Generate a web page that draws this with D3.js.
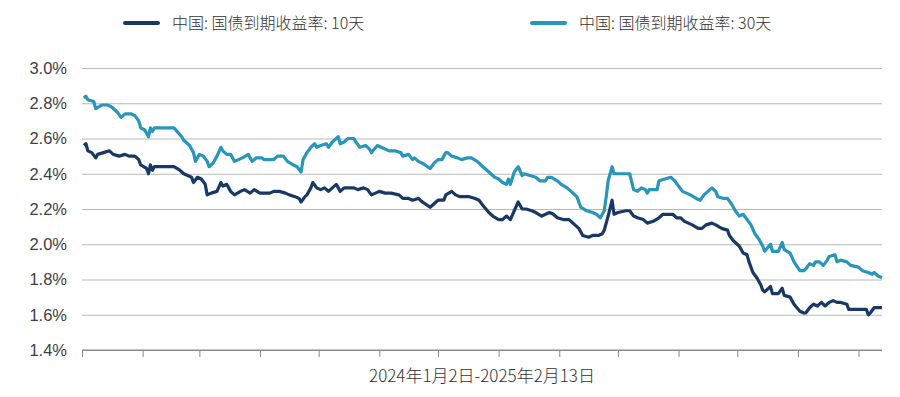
<!DOCTYPE html>
<html>
<head>
<meta charset="utf-8">
<script src="https://cdn.jsdelivr.net/npm/d3@7"></script>
<style>
  html, body { margin: 0; padding: 0; background: #fff; }
  svg { display: block; }
</style>
</head>
<body>
<div id="chart"></div>
<script>
// ---- DATA ----
const seriesNames = ["中国: 国债到期收益率: 10天", "中国: 国债到期收益率: 30天"];
const xLabel = "2024年1月2日-2025年2月13日";
const yTicks = [1.4, 1.6, 1.8, 2.0, 2.2, 2.4, 2.6, 2.8, 3.0];
const monthTicks = ["2024-01-01","2024-02-01","2024-03-01","2024-04-01","2024-05-01","2024-06-01","2024-07-01","2024-08-01","2024-09-01","2024-10-01","2024-11-01","2024-12-01","2025-01-01","2025-02-01"];

const dates10 = ["2024-01-02","2024-01-03","2024-01-04","2024-01-06","2024-01-08","2024-01-09","2024-01-12","2024-01-15","2024-01-17","2024-01-20","2024-01-23","2024-01-25","2024-01-28","2024-01-30","2024-01-31","2024-02-03","2024-02-04","2024-02-05","2024-02-06","2024-02-07","2024-02-17","2024-02-20","2024-02-22","2024-02-26","2024-02-27","2024-02-29","2024-03-02","2024-03-04","2024-03-05","2024-03-07","2024-03-10","2024-03-12","2024-03-13","2024-03-15","2024-03-17","2024-03-19","2024-03-22","2024-03-24","2024-03-27","2024-03-29","2024-04-01","2024-04-03","2024-04-06","2024-04-08","2024-04-11","2024-04-14","2024-04-16","2024-04-19","2024-04-21","2024-04-22","2024-04-24","2024-04-25","2024-04-27","2024-04-28","2024-04-30","2024-05-02","2024-05-04","2024-05-06","2024-05-08","2024-05-10","2024-05-12","2024-05-14","2024-05-17","2024-05-19","2024-05-21","2024-05-24","2024-05-26","2024-05-28","2024-05-30","2024-06-01","2024-06-04","2024-06-07","2024-06-11","2024-06-13","2024-06-16","2024-06-18","2024-06-21","2024-06-23","2024-06-27","2024-06-29","2024-07-01","2024-07-04","2024-07-05","2024-07-08","2024-07-10","2024-07-12","2024-07-15","2024-07-17","2024-07-20","2024-07-22","2024-07-24","2024-07-27","2024-07-29","2024-08-01","2024-08-03","2024-08-05","2024-08-07","2024-08-09","2024-08-11","2024-08-13","2024-08-15","2024-08-18","2024-08-20","2024-08-23","2024-08-25","2024-08-27","2024-08-29","2024-08-31","2024-09-03","2024-09-06","2024-09-08","2024-09-11","2024-09-13","2024-09-16","2024-09-18","2024-09-21","2024-09-23","2024-09-24","2024-09-26","2024-09-28","2024-09-29","2024-10-01","2024-10-05","2024-10-07","2024-10-09","2024-10-11","2024-10-14","2024-10-16","2024-10-19","2024-10-22","2024-10-24","2024-10-27","2024-10-29","2024-10-31","2024-11-02","2024-11-04","2024-11-08","2024-11-11","2024-11-13","2024-11-15","2024-11-18","2024-11-20","2024-11-23","2024-11-26","2024-11-27","2024-11-29","2024-12-01","2024-12-02","2024-12-04","2024-12-06","2024-12-07","2024-12-09","2024-12-11","2024-12-13","2024-12-14","2024-12-15","2024-12-18","2024-12-19","2024-12-22","2024-12-24","2024-12-25","2024-12-28","2024-12-30","2025-01-02","2025-01-04","2025-01-05","2025-01-07","2025-01-09","2025-01-11","2025-01-13","2025-01-15","2025-01-17","2025-01-19","2025-01-21","2025-01-23","2025-01-26","2025-01-27","2025-01-30","2025-02-02","2025-02-05","2025-02-06","2025-02-07","2025-02-09","2025-02-11","2025-02-13"];
const yield10 = [2.56,2.57,2.53,2.52,2.49,2.51,2.52,2.53,2.51,2.50,2.51,2.50,2.50,2.48,2.45,2.43,2.40,2.45,2.42,2.44,2.44,2.42,2.40,2.38,2.35,2.38,2.37,2.34,2.28,2.29,2.30,2.35,2.33,2.34,2.30,2.28,2.30,2.31,2.29,2.31,2.29,2.29,2.29,2.30,2.30,2.29,2.28,2.27,2.26,2.24,2.27,2.28,2.32,2.35,2.32,2.31,2.32,2.30,2.32,2.34,2.30,2.32,2.32,2.32,2.31,2.32,2.31,2.28,2.29,2.30,2.29,2.29,2.28,2.26,2.26,2.25,2.26,2.24,2.21,2.23,2.25,2.25,2.28,2.30,2.28,2.27,2.27,2.27,2.26,2.25,2.22,2.18,2.16,2.14,2.14,2.16,2.14,2.19,2.24,2.20,2.20,2.19,2.18,2.16,2.17,2.18,2.17,2.15,2.14,2.14,2.12,2.09,2.05,2.04,2.05,2.05,2.06,2.08,2.16,2.25,2.17,2.18,2.19,2.19,2.16,2.15,2.14,2.12,2.13,2.15,2.17,2.17,2.17,2.15,2.15,2.13,2.11,2.09,2.09,2.11,2.12,2.11,2.09,2.08,2.05,2.02,2.00,1.99,1.95,1.94,1.90,1.84,1.81,1.77,1.74,1.73,1.76,1.72,1.72,1.75,1.71,1.70,1.66,1.62,1.61,1.61,1.64,1.66,1.65,1.67,1.65,1.67,1.68,1.67,1.67,1.66,1.63,1.63,1.63,1.63,1.60,1.61,1.64,1.64,1.64];

const dates30 = ["2024-01-02","2024-01-03","2024-01-04","2024-01-07","2024-01-08","2024-01-11","2024-01-14","2024-01-16","2024-01-19","2024-01-21","2024-01-23","2024-01-26","2024-01-28","2024-01-30","2024-01-31","2024-02-02","2024-02-04","2024-02-05","2024-02-06","2024-02-07","2024-02-17","2024-02-21","2024-02-22","2024-02-25","2024-02-27","2024-02-28","2024-03-01","2024-03-03","2024-03-05","2024-03-06","2024-03-08","2024-03-10","2024-03-12","2024-03-13","2024-03-15","2024-03-17","2024-03-19","2024-03-21","2024-03-23","2024-03-26","2024-03-28","2024-03-30","2024-04-02","2024-04-03","2024-04-06","2024-04-08","2024-04-10","2024-04-13","2024-04-15","2024-04-18","2024-04-20","2024-04-22","2024-04-23","2024-04-25","2024-04-27","2024-04-29","2024-04-30","2024-05-02","2024-05-05","2024-05-06","2024-05-08","2024-05-11","2024-05-12","2024-05-14","2024-05-16","2024-05-19","2024-05-20","2024-05-22","2024-05-25","2024-05-27","2024-05-28","2024-05-31","2024-06-02","2024-06-06","2024-06-09","2024-06-12","2024-06-13","2024-06-16","2024-06-18","2024-06-19","2024-06-21","2024-06-23","2024-06-27","2024-06-29","2024-07-01","2024-07-03","2024-07-05","2024-07-06","2024-07-08","2024-07-11","2024-07-13","2024-07-16","2024-07-18","2024-07-21","2024-07-22","2024-07-23","2024-07-25","2024-07-28","2024-07-30","2024-08-01","2024-08-03","2024-08-05","2024-08-06","2024-08-07","2024-08-09","2024-08-11","2024-08-13","2024-08-14","2024-08-17","2024-08-20","2024-08-22","2024-08-25","2024-08-26","2024-08-28","2024-08-31","2024-09-02","2024-09-05","2024-09-07","2024-09-10","2024-09-12","2024-09-15","2024-09-18","2024-09-20","2024-09-22","2024-09-24","2024-09-25","2024-09-26","2024-09-28","2024-09-29","2024-10-03","2024-10-07","2024-10-09","2024-10-11","2024-10-13","2024-10-15","2024-10-16","2024-10-17","2024-10-21","2024-10-22","2024-10-25","2024-10-28","2024-10-30","2024-11-01","2024-11-03","2024-11-07","2024-11-10","2024-11-12","2024-11-14","2024-11-18","2024-11-20","2024-11-21","2024-11-24","2024-11-26","2024-11-28","2024-11-30","2024-12-02","2024-12-04","2024-12-06","2024-12-08","2024-12-10","2024-12-12","2024-12-14","2024-12-15","2024-12-18","2024-12-19","2024-12-22","2024-12-24","2024-12-25","2024-12-28","2024-12-30","2025-01-02","2025-01-04","2025-01-05","2025-01-07","2025-01-09","2025-01-10","2025-01-12","2025-01-14","2025-01-16","2025-01-17","2025-01-20","2025-01-21","2025-01-23","2025-01-26","2025-01-28","2025-02-01","2025-02-03","2025-02-06","2025-02-08","2025-02-09","2025-02-11","2025-02-13"];
const yield30 = [2.83,2.84,2.82,2.81,2.77,2.79,2.79,2.78,2.75,2.72,2.74,2.74,2.73,2.70,2.66,2.65,2.61,2.66,2.64,2.66,2.66,2.61,2.59,2.56,2.52,2.47,2.51,2.50,2.47,2.44,2.46,2.50,2.55,2.53,2.51,2.51,2.47,2.48,2.49,2.51,2.47,2.49,2.49,2.48,2.48,2.48,2.50,2.50,2.47,2.45,2.44,2.41,2.48,2.52,2.55,2.57,2.55,2.56,2.57,2.55,2.58,2.61,2.57,2.58,2.60,2.60,2.58,2.55,2.56,2.54,2.52,2.56,2.55,2.53,2.53,2.52,2.50,2.51,2.48,2.49,2.47,2.46,2.43,2.46,2.48,2.48,2.52,2.52,2.50,2.49,2.48,2.49,2.49,2.47,2.46,2.45,2.43,2.40,2.38,2.37,2.35,2.34,2.37,2.34,2.41,2.44,2.39,2.40,2.39,2.38,2.36,2.36,2.38,2.38,2.36,2.34,2.32,2.30,2.27,2.21,2.19,2.18,2.17,2.15,2.19,2.27,2.36,2.44,2.40,2.40,2.40,2.31,2.30,2.32,2.31,2.29,2.31,2.31,2.36,2.37,2.38,2.36,2.33,2.30,2.28,2.26,2.25,2.28,2.32,2.30,2.27,2.26,2.26,2.23,2.19,2.16,2.17,2.14,2.11,2.06,2.03,1.99,1.96,2.00,1.96,1.96,2.01,1.97,1.95,1.90,1.85,1.85,1.86,1.89,1.88,1.90,1.90,1.88,1.91,1.93,1.94,1.90,1.91,1.90,1.88,1.87,1.85,1.84,1.83,1.84,1.82,1.81];

// ---- LAYOUT ----
const W = 900, H = 397;
const margin = { left: 82, right: 18, top: 68, bottom: 47 };
const colors = ["#183865", "#2796ba"];
const parse = d3.timeParse("%Y-%m-%d");

const svg = d3.select("#chart").append("svg").attr("width", W).attr("height", H);

const x = d3.scaleTime()
  .domain([parse("2024-01-01"), parse("2025-02-13")])
  .range([margin.left, W - margin.right]);
const y = d3.scaleLinear().domain([1.4, 3.0]).range([H - margin.bottom, margin.top]);

// grid lines
const yAxis = d3.axisLeft(y).tickValues(yTicks)
  .tickSize(-(W - margin.left - margin.right))
  .tickPadding(15)
  .tickFormat(d => d3.format(".1f")(d) + "%");
const gy = svg.append("g").attr("transform", `translate(${margin.left},0)`).call(yAxis);
gy.select(".domain").remove();
gy.selectAll(".tick line").attr("stroke", "#b8b8b8").attr("stroke-width", 1)
  .filter(d => d === 1.4).attr("stroke", "#8a8a8a");
gy.selectAll(".tick text")
  .attr("fill", "#404040")
  .style("font-family", "'Liberation Sans', Arial, sans-serif")
  .style("font-size", "16.5px");

// x axis
const xAxis = d3.axisBottom(x).tickValues(monthTicks.map(parse)).tickSize(7).tickFormat("");
const gx = svg.append("g").attr("transform", `translate(0,${y(1.4)})`).call(xAxis);
gx.select(".domain").attr("stroke", "#8a8a8a").attr("d", `M${margin.left},0H${W - margin.right}`);
gx.selectAll(".tick line").attr("stroke", "#8a8a8a");

svg.append("text")
  .attr("x", 482).attr("y", 382)
  .attr("text-anchor", "middle")
  .attr("fill", "#333")
  .style("font-family", "'Noto Sans CJK SC', sans-serif")
  .style("font-weight", "300")
  .style("font-size", "17px")
  .text(xLabel);

// lines
const line = d3.line().x(d => x(d.date)).y(d => y(d.v)).curve(d3.curveLinear);
const data = [
  dates10.map((d, i) => ({ date: parse(d), v: yield10[i] })),
  dates30.map((d, i) => ({ date: parse(d), v: yield30[i] }))
];
[1, 0].forEach(i => {
  svg.append("path")
    .datum(data[i])
    .attr("fill", "none")
    .attr("stroke", colors[i])
    .attr("stroke-width", 3.2)
    .attr("stroke-linejoin", "round")
    .attr("d", line);
});

// legend
const legendPos = [125, 532];
seriesNames.forEach((name, i) => {
  const g = svg.append("g").attr("transform", `translate(${legendPos[i]},23)`);
  g.append("line").attr("x1", 0).attr("x2", 33).attr("y1", 0).attr("y2", 0)
    .attr("stroke", colors[i]).attr("stroke-width", 4).attr("stroke-linecap", "round");
  g.append("text").attr("x", 47).attr("y", 6)
    .attr("fill", "#333")
    .style("font-family", "'Noto Sans CJK SC', sans-serif")
    .style("font-weight", "300")
    .style("font-size", "16px")
    .text(name);
});
</script>
</body>
</html>
